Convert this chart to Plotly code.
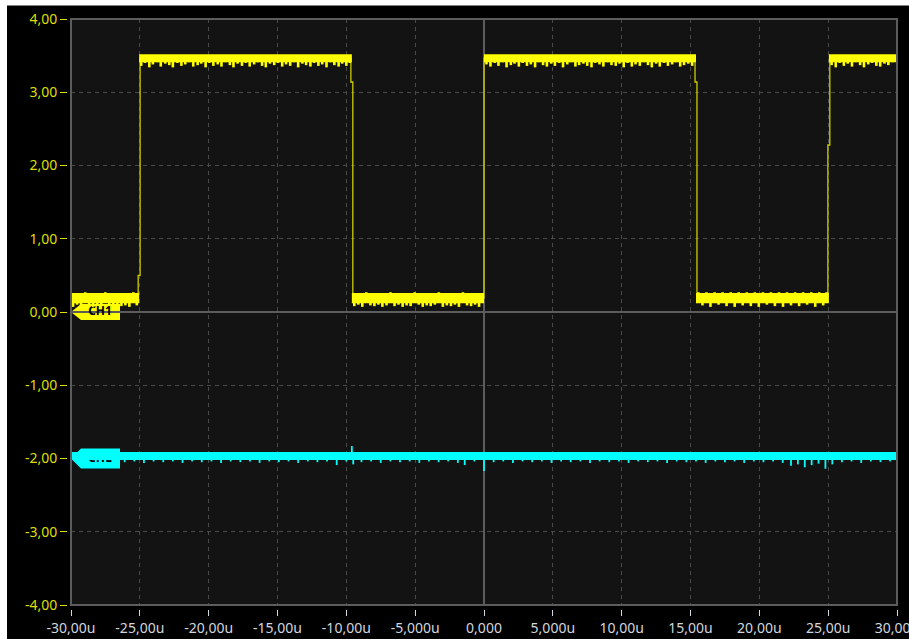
import plotly.graph_objects as go

# ---------------------------------------------------------------- axes
x_tick_vals = [-30, -25, -20, -15, -10, -5, 0, 5, 10, 15, 20, 25, 30]
x_tick_text = ["-30,00u", "-25,00u", "-20,00u", "-15,00u", "-10,00u", "-5,000u",
               "0,000", "5,000u", "10,00u", "15,00u", "20,00u", "25,00u", "30,00u"]
y_tick_vals = [4, 3, 2, 1, 0, -1, -2, -3, -4]
y_tick_text = ["4,00", "3,00", "2,00", "1,00", "0,00", "-1,00", "-2,00", "-3,00", "-4,00"]
t_range = [-30.0, 30.0]
v_range = [-4.0, 4.0]

# ---------------------------------------------------------------- CH1 (square wave)
ch1_edges = [-25.05, -9.6, 0.0, 15.4, 25.05]          # transition times (us)
ch1_edge_knee = [0.50, 3.14, None, 3.14, 2.28]        # short pause on the edge (V)
ch1_start_high = False
ch1_high_band = [3.41, 3.52]                          # noise band of the high level
ch1_low_band = [0.12, 0.26]                           # noise band of the low level

ch1_hi_spike_t = [
    -24.90, -24.62, -24.31, -24.05, -23.74, -23.48, -23.15, -22.86, -22.60, -22.27,
    -21.98, -21.70, -21.41, -21.12, -20.80, -20.54, -20.22, -19.95, -19.66, -19.34,
    -19.07, -18.78, -18.46, -18.20, -17.90, -17.58, -17.31, -17.02, -16.70, -16.44,
    -16.12, -15.85, -15.55, -15.24, -14.97, -14.66, -14.38, -14.08, -13.80, -13.50,
    -13.19, -12.92, -12.61, -12.34, -12.03, -11.75, -11.44, -11.16, -10.87, -10.56,
    -10.30, -10.00, -9.76,
    0.18, 0.47, 0.78, 1.05, 1.36, 1.64, 1.95, 2.22, 2.53, 2.81,
    3.12, 3.40, 3.71, 3.98, 4.29, 4.57, 4.88, 5.15, 5.46, 5.74,
    6.05, 6.33, 6.64, 6.91, 7.22, 7.50, 7.81, 8.08, 8.39, 8.67,
    8.98, 9.26, 9.57, 9.84, 10.15, 10.43, 10.74, 11.01, 11.32, 11.60,
    11.91, 12.19, 12.50, 12.77, 13.08, 13.36, 13.67, 13.94, 14.25, 14.53,
    14.84, 15.12,
    25.25, 25.55, 25.83, 26.14, 26.42, 26.73, 27.01, 27.32, 27.60, 27.91,
    28.19, 28.50, 28.78, 29.09, 29.37, 29.68]
ch1_hi_spike_v = [
    3.36, 3.40, 3.34, 3.38, 3.41, 3.35, 3.39, 3.37, 3.34, 3.40,
    3.36, 3.38, 3.41, 3.35, 3.37, 3.39, 3.34, 3.40, 3.36, 3.38,
    3.35, 3.41, 3.37, 3.34, 3.39, 3.36, 3.40, 3.35, 3.38, 3.41,
    3.36, 3.34, 3.39, 3.37, 3.40, 3.35, 3.38, 3.36, 3.41, 3.34,
    3.39, 3.37, 3.35, 3.40, 3.36, 3.38, 3.34, 3.41, 3.37, 3.35,
    3.39, 3.36, 3.40,
    3.38, 3.35, 3.40, 3.36, 3.41, 3.34, 3.37, 3.39, 3.35, 3.40,
    3.36, 3.38, 3.34, 3.41, 3.37, 3.35, 3.39, 3.36, 3.40, 3.34,
    3.38, 3.41, 3.35, 3.37, 3.39, 3.36, 3.34, 3.40, 3.38, 3.35,
    3.41, 3.37, 3.36, 3.39, 3.34, 3.40, 3.35, 3.38, 3.36, 3.41,
    3.37, 3.34, 3.39, 3.35, 3.40, 3.36, 3.38, 3.41, 3.35, 3.37,
    3.39, 3.36,
    3.37, 3.34, 3.40, 3.36, 3.39, 3.35, 3.41, 3.37, 3.34, 3.38,
    3.40, 3.36, 3.35, 3.39, 3.37, 3.41]

ch1_lo_spike_t = [
    -29.85, -29.56, -29.27, -28.97, -28.68, -28.39, -28.10, -27.80, -27.51, -27.22,
    -26.93, -26.63, -26.34, -26.05, -25.76, -25.47, -25.22,
    -9.42, -9.13, -8.84, -8.55, -8.25, -7.96, -7.67, -7.38, -7.08, -6.79,
    -6.50, -6.21, -5.91, -5.62, -5.33, -5.04, -4.74, -4.45, -4.16, -3.87,
    -3.57, -3.28, -2.99, -2.70, -2.40, -2.11, -1.82, -1.53, -1.23, -0.94,
    -0.65, -0.36,
    15.58, 15.87, 16.16, 16.45, 16.75, 17.04, 17.33, 17.62, 17.92, 18.21,
    18.50, 18.79, 19.09, 19.38, 19.67, 19.96, 20.26, 20.55, 20.84, 21.13,
    21.43, 21.72, 22.01, 22.30, 22.60, 22.89, 23.18, 23.47, 23.77, 24.06,
    24.35, 24.64, 24.88]
ch1_lo_spike_v = [
    0.07, 0.10, 0.08, 0.27, 0.09, 0.07, 0.10, 0.08, 0.27, 0.09,
    0.07, 0.10, 0.08, 0.09, 0.07, 0.27, 0.09,
    0.08, 0.10, 0.07, 0.27, 0.09, 0.08, 0.10, 0.07, 0.09, 0.27,
    0.08, 0.10, 0.07, 0.09, 0.08, 0.27, 0.10, 0.07, 0.09, 0.08,
    0.10, 0.27, 0.07, 0.09, 0.08, 0.10, 0.07, 0.27, 0.09, 0.08,
    0.10, 0.07,
    0.27, 0.09, 0.27, 0.07, 0.27, 0.10, 0.27, 0.08, 0.27, 0.07,
    0.27, 0.09, 0.27, 0.08, 0.27, 0.07, 0.27, 0.10, 0.27, 0.08,
    0.27, 0.07, 0.27, 0.09, 0.27, 0.08, 0.27, 0.10, 0.27, 0.07,
    0.27, 0.09, 0.27]

# ---------------------------------------------------------------- CH2 (flat line)
ch2_band = [-2.02, -1.91]
ch2_spike_t = [
    -29.6, -28.9, -28.2, -27.5, -26.8, -26.1, -25.4, -24.7, -24.0, -23.3,
    -22.6, -21.9, -21.2, -20.5, -19.8, -19.1, -18.4, -17.7, -17.0, -16.3,
    -15.6, -14.9, -14.2, -13.5, -12.8, -12.1, -11.4, -10.7, -10.0, -9.6,
    -9.5, -8.9, -8.2, -7.5, -6.8, -6.1, -5.4, -4.7, -4.0, -3.3,
    -2.6, -1.9, -1.4, -0.7, 0.0, 0.7, 1.4, 2.1, 2.8, 3.5,
    4.2, 4.9, 5.6, 6.3, 7.0, 7.7, 8.4, 9.1, 9.8, 10.5,
    11.2, 11.9, 12.6, 13.3, 14.0, 14.7, 15.4, 16.1, 16.8, 17.5,
    18.2, 18.9, 19.6, 20.3, 21.0, 21.7, 22.3, 22.8, 23.3, 23.8,
    24.3, 24.8, 25.3, 26.0, 26.7, 27.4, 28.1, 28.8, 29.5]
ch2_spike_v = [
    -2.04, -2.05, -2.04, -2.06, -2.04, -2.05, -2.04, -2.06, -2.04, -2.05,
    -2.04, -2.06, -2.04, -2.05, -2.04, -2.06, -2.04, -2.05, -2.04, -2.06,
    -2.04, -2.05, -2.04, -2.06, -2.04, -2.05, -2.04, -2.09, -2.04, -1.83,
    -2.08, -2.05, -2.04, -2.06, -2.04, -2.05, -2.04, -2.06, -2.04, -2.05,
    -2.04, -2.06, -2.09, -2.04, -2.17, -2.05, -2.04, -2.06, -2.04, -2.05,
    -2.04, -2.06, -2.04, -2.05, -2.04, -2.06, -2.04, -2.05, -2.04, -2.06,
    -2.04, -2.05, -2.04, -2.06, -2.04, -2.05, -2.04, -2.06, -2.04, -2.05,
    -2.04, -2.06, -2.04, -2.05, -2.04, -2.06, -2.10, -2.08, -2.12, -2.09,
    -2.07, -2.14, -2.08, -2.05, -2.04, -2.06, -2.04, -2.05, -2.04]

# ---------------------------------------------------------------- styling
W, H = 909, 639
PL, PR, PT, PB = 71, 897, 19, 605          # plot area in pixels
YELLOW = "#ffff00"
YELLOW_EDGE = "#cccc00"
CYAN = "#00ffff"
GRID = "#4a4a4a"
FRAME = "#5c5c5c"
PLOT_BG = "#131313"
Y_LABEL = "#dede00"
X_LABEL = "#d2d6de"
FONT = "Noto Sans, DejaVu Sans, sans-serif"
t_per_px = (t_range[1] - t_range[0]) / (PR - PL)

fig = go.Figure()


def mid(band):
    return (band[0] + band[1]) / 2.0


def band_polygon(t0, t1, band):
    return [t0, t1, t1, t0, t0], [band[0], band[0], band[1], band[1], band[0]]


def spikes(ts, vs, base):
    xs, ys = [], []
    for t, v in zip(ts, vs):
        xs += [t, t, None]
        ys += [base, v, None]
    return xs, ys


# channel tag labels go in first so the traces sit on top of them
fig.add_trace(go.Scatter(
    x=[t_range[0] + 29 * t_per_px], y=[0], mode="text", text=["<b>CH1</b>"],
    textfont=dict(family=FONT, size=12, color="#000000"),
    cliponaxis=False, hoverinfo="skip"))
fig.add_trace(go.Scatter(
    x=[t_range[0] + 29 * t_per_px], y=[-2], mode="text", text=["<b>CH2</b>"],
    textfont=dict(family=FONT, size=12, color="#000000"),
    cliponaxis=False, hoverinfo="skip"))

# ---- CH1 edges
bounds = [t_range[0]] + ch1_edges + [t_range[1]]
states = []
s = ch1_start_high
for i in range(len(bounds) - 1):
    states.append(s)
    s = not s


def lvl(high):
    return mid(ch1_high_band) if high else mid(ch1_low_band)


lx, ly = [t_range[0]], [lvl(states[0])]
for i, (t, knee) in enumerate(zip(ch1_edges, ch1_edge_knee)):
    a, b = lvl(states[i]), lvl(states[i + 1])
    if knee is None:
        lx += [t, t]
        ly += [a, b]
    else:
        lx += [t - 0.07, t - 0.07, t + 0.07, t + 0.07]
        ly += [a, knee, knee, b]
lx.append(t_range[1])
ly.append(lvl(states[-1]))
fig.add_trace(go.Scatter(x=lx, y=ly, mode="lines",
                         line=dict(color=YELLOW_EDGE, width=1.3), hoverinfo="skip"))

# ---- CH1 noise bands
for i in range(len(bounds) - 1):
    band = ch1_high_band if states[i] else ch1_low_band
    px_, py_ = band_polygon(bounds[i], bounds[i + 1], band)
    fig.add_trace(go.Scatter(x=px_, y=py_, mode="lines", fill="toself",
                             fillcolor=YELLOW, line=dict(width=0, color=YELLOW),
                             hoverinfo="skip"))

sx, sy = spikes(ch1_hi_spike_t, ch1_hi_spike_v, mid(ch1_high_band))
fig.add_trace(go.Scatter(x=sx, y=sy, mode="lines",
                         line=dict(color=YELLOW, width=2.6), hoverinfo="skip"))
sx, sy = spikes(ch1_lo_spike_t, ch1_lo_spike_v, mid(ch1_low_band))
fig.add_trace(go.Scatter(x=sx, y=sy, mode="lines",
                         line=dict(color=YELLOW, width=2.6), hoverinfo="skip"))

# ---- CH2
px_, py_ = band_polygon(t_range[0], t_range[1], ch2_band)
fig.add_trace(go.Scatter(x=px_, y=py_, mode="lines", fill="toself",
                         fillcolor=CYAN, line=dict(width=0, color=CYAN),
                         hoverinfo="skip"))
sx, sy = spikes(ch2_spike_t, ch2_spike_v, mid(ch2_band))
fig.add_trace(go.Scatter(x=sx, y=sy, mode="lines",
                         line=dict(color=CYAN, width=1.8), hoverinfo="skip"))


def tag_path(half_h, width=49, slant=10):
    return (f"M 0,0 L {slant},{half_h} L {width},{half_h} "
            f"L {width},{-half_h} L {slant},{-half_h} Z")


shapes = [
    # channel tags
    dict(type="path", xref="x", yref="y", xsizemode="pixel", ysizemode="pixel",
         xanchor=t_range[0], yanchor=0, path=tag_path(8),
         fillcolor=YELLOW, line=dict(width=0), layer="below"),
    dict(type="path", xref="x", yref="y", xsizemode="pixel", ysizemode="pixel",
         xanchor=t_range[0], yanchor=-2, path=tag_path(10),
         fillcolor=CYAN, line=dict(width=0), layer="below"),
    # plot frame
    dict(type="rect", xref="x domain", yref="y domain", x0=0, x1=1, y0=0, y1=1,
         line=dict(color=FRAME, width=2), fillcolor="rgba(0,0,0,0)", layer="above"),
    # white margins of the screen grab
    dict(type="rect", xref="paper", yref="paper", x0=0, x1=7 / W, y0=0, y1=1,
         fillcolor="#ffffff", line=dict(width=0), layer="above"),
    dict(type="rect", xref="paper", yref="paper", x0=0, x1=1, y0=1 - 5.5 / H, y1=1,
         fillcolor="#ffffff", line=dict(width=0), layer="above"),
]

fig.update_layout(
    width=W, height=H,
    margin=dict(l=0, r=0, t=0, b=0),
    paper_bgcolor="#000000",
    plot_bgcolor=PLOT_BG,
    showlegend=False,
    hovermode=False,
    shapes=shapes,
    xaxis=dict(
        domain=[PL / W, PR / W], range=t_range, anchor="free",
        position=(H - PB - 4) / H,
        tickmode="array", tickvals=x_tick_vals, ticktext=x_tick_text,
        ticks="outside", ticklen=6, tickwidth=1, tickcolor=X_LABEL,
        tickfont=dict(family=FONT, size=14, color=X_LABEL),
        ticklabeloverflow="allow",
        showgrid=True, gridcolor=GRID, griddash="4px,4px", gridwidth=1,
        zeroline=True, zerolinecolor=FRAME, zerolinewidth=2,
        showline=False, automargin=False, fixedrange=True,
    ),
    yaxis=dict(
        domain=[(H - PB) / H, (H - PT) / H], range=v_range, anchor="free",
        position=(PL - 4) / W,
        tickmode="array", tickvals=y_tick_vals, ticktext=y_tick_text,
        ticks="outside", ticklen=7, tickwidth=1, tickcolor=Y_LABEL,
        tickfont=dict(family=FONT, size=14, color=Y_LABEL),
        showgrid=True, gridcolor=GRID, griddash="4px,4px", gridwidth=1,
        zeroline=True, zerolinecolor=FRAME, zerolinewidth=2,
        showline=False, automargin=False, fixedrange=True,
    ),
)

fig.write_html("out.html", config={"displayModeBar": False})
